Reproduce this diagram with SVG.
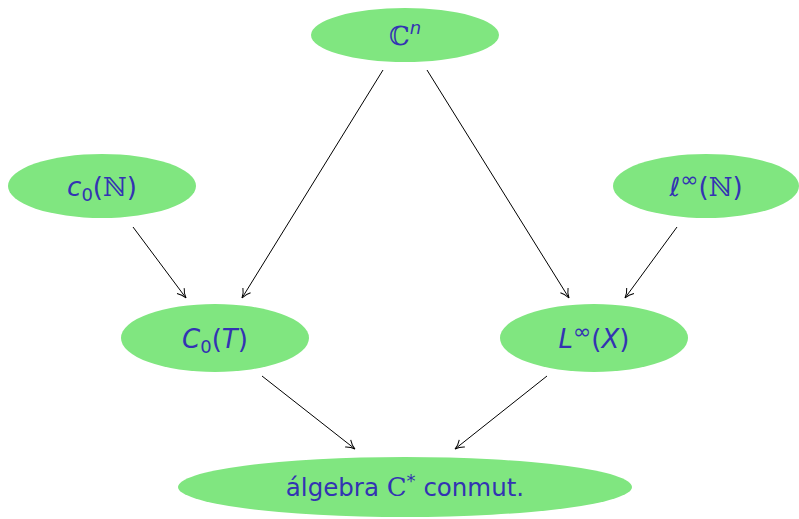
<svg xmlns="http://www.w3.org/2000/svg" width="799" height="519" viewBox="0 0 799 519">
<defs>
<marker id="arr" viewBox="0 0 12 12" refX="11" refY="6" markerWidth="12" markerHeight="12" markerUnits="userSpaceOnUse" orient="auto">
<path d="M2,1.5 Q6,5 11,6 Q6,7 2,10.5" fill="none" stroke="#000" stroke-width="1"/>
</marker>
</defs>
<style>
.n{fill:#80e680;stroke:none}
.t{fill:#3333b3;font-family:"DejaVu Sans","Liberation Sans",sans-serif;font-size:26px;text-anchor:middle}
.i{font-style:italic}
.s{font-family:"DejaVu Serif","Liberation Serif",serif}
.c{stroke:#000;stroke-width:1;fill:none;marker-end:url(#arr)}
</style>
<g id="connectors">
<line class="c" x1="383" y1="70" x2="242" y2="298"/>
<line class="c" x1="427" y1="70" x2="569" y2="298"/>
<line class="c" x1="133" y1="227" x2="186" y2="298"/>
<line class="c" x1="677" y1="227" x2="625" y2="298"/>
<line class="c" x1="262" y1="376" x2="355" y2="449"/>
<line class="c" x1="547" y1="376" x2="455" y2="449"/>
</g>
<g id="node-Cn">
<ellipse class="n" cx="405" cy="35" rx="94" ry="27"/>
<text class="t" x="405" y="45"><tspan class="s">ℂ</tspan><tspan class="i" font-size="18" dy="-11">n</tspan></text>
</g>
<g id="node-c0N">
<ellipse class="n" cx="102" cy="186" rx="94" ry="32"/>
<text class="t" x="102" y="196"><tspan class="i">c</tspan><tspan font-size="18" dy="5">0</tspan><tspan dy="-5">(</tspan><tspan class="s">ℕ</tspan>)</text>
</g>
<g id="node-linfN">
<ellipse class="n" cx="706" cy="186" rx="93" ry="32"/>
<text class="t" x="706" y="196"><tspan class="i">ℓ</tspan><tspan font-size="22" dy="-9">∞</tspan><tspan dy="9">(</tspan><tspan class="s">ℕ</tspan>)</text>
</g>
<g id="node-C0T">
<ellipse class="n" cx="215" cy="338" rx="94" ry="34"/>
<text class="t" x="215" y="348"><tspan class="i">C</tspan><tspan font-size="18" dy="5">0</tspan><tspan dy="-5">(</tspan><tspan class="i">T</tspan>)</text>
</g>
<g id="node-LinfX">
<ellipse class="n" cx="594" cy="338" rx="94" ry="34"/>
<text class="t" x="594" y="348"><tspan class="i">L</tspan><tspan font-size="22" dy="-9">∞</tspan><tspan dy="9">(</tspan><tspan class="i">X</tspan>)</text>
</g>
<g id="node-alg">
<ellipse class="n" cx="405" cy="487" rx="227" ry="30"/>
<text class="t" x="405" y="496" style="font-size:24.5px">álgebra <tspan class="s" font-size="26">C</tspan><tspan font-size="18" dy="-9">*</tspan><tspan dy="9"> conmut.</tspan></text>
</g>
</svg>
